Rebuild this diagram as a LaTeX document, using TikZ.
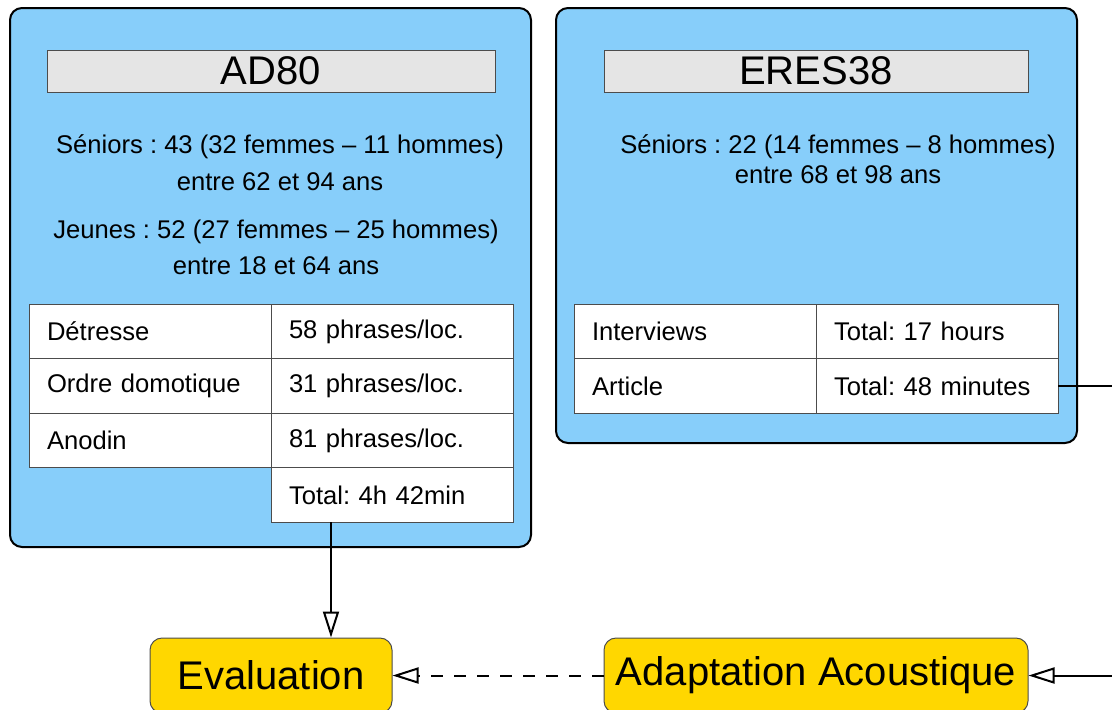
\documentclass[tikz,border=0pt]{standalone}
\usepackage{fontspec}
\setmainfont{Liberation Sans}
\usetikzlibrary{arrows.meta, positioning}
\definecolor{corpusblue}{RGB}{135,206,250}
\definecolor{stepgold}{RGB}{255,215,0}
\tikzset{
    corpus/.style={rectangle, draw, line width=1pt, rounded corners=6pt, fill=corpusblue, inner sep=0pt},
    banner/.style={rectangle, draw=black!70, line width=0.5pt, fill=black!10, minimum height=21pt, inner sep=0pt, font=\fontsize{20}{24}\selectfont},
    infotext/.style={align=center, inner sep=0pt},
    cell/.style={rectangle, draw=black!70, line width=0.5pt, fill=white, minimum width=121pt, minimum height=27.25pt, text width=103pt, align=left, inner xsep=9pt, inner ysep=0pt, outer sep=0pt, font=\fontsize{12.8}{15}\selectfont},
    stepbox/.style={rectangle, draw=black!70, line width=0.5pt, rounded corners=6pt, fill=stepgold, minimum height=37.5pt, inner sep=0pt, font=\fontsize{20}{24}\selectfont},
    arrow/.style={line width=1pt, -{Triangle[open, length=13pt, width=8pt]}}
}
\frenchspacing

\begin{document}
\begin{tikzpicture}[x=0.5pt, y=-0.5pt]
    \useasboundingbox (0,0) rectangle (1112,709);
    \clip (0,0) rectangle (1112,709);

    % corpus AD80
    \node[corpus, minimum width=260.5pt, minimum height=269.5pt] (ad80) at (270.5,277.5) {};
    \node[banner, minimum width=224pt] (ad80title) at (271,71) {AD80};
    \node[infotext, font=\fontsize{12.8}{18.5}\selectfont] (ad80sen) at (280,162.5) {Séniors : 43 (32 femmes – 11 hommes)\\entre 62 et 94 ans};
    \node[infotext, font=\fontsize{12.8}{18}\selectfont] (ad80jeu) at (276,247) {Jeunes : 52 (27 femmes – 25 hommes)\\entre 18 et 64 ans};
    \node[cell] (ad80a) at (150,331.5) {Détresse};
    \node[cell, right=0pt of ad80a] (ad80an) {58 phrases/loc.};
    \node[cell, below=0pt of ad80a] (ad80b) {Ordre domotique};
    \node[cell, right=0pt of ad80b] (ad80bn) {31 phrases/loc.};
    \node[cell, below=0pt of ad80b] (ad80c) {Anodin};
    \node[cell, right=0pt of ad80c] (ad80cn) {81 phrases/loc.};
    \node[cell, below=0pt of ad80cn] (ad80tot) {Total: 4h 42min};

    % corpus ERES38
    \node[corpus, minimum width=260.5pt, minimum height=217.5pt] (eres) at (816.5,225.5) {};
    \node[banner, minimum width=212pt] (erestitle) at (816,71) {ERES38};
    \node[infotext, font=\fontsize{12.8}{15}\selectfont] (eressen) at (838,159) {Séniors : 22 (14 femmes – 8 hommes)\\entre 68 et 98 ans};
    \node[cell] (eresa) at (695,331.5) {Interviews};
    \node[cell, right=0pt of eresa] (eresan) {Total: 17 hours};
    \node[cell, below=0pt of eresa] (eresb) {Article};
    \node[cell, right=0pt of eresb] (erestot) {Total: 48 minutes};

    % steps
    \node[stepbox, minimum width=121pt] (eval) at (271,675.5) {Evaluation};
    \node[stepbox, minimum width=212pt] (adapt) at (816,675.5) {Adaptation Acoustique};
    \coordinate (loopback) at (1150,386);

    \draw[arrow] ([xshift=-30.5pt]ad80tot.south) -- ([xshift=-30.5pt]ad80tot.south |- eval.north);
    \draw[arrow, dash pattern=on 6pt off 5.5pt] (adapt.west) -- (eval.east);
    \draw[arrow] (erestot.east) -- (loopback) |- (adapt.east);
\end{tikzpicture}
\end{document}
